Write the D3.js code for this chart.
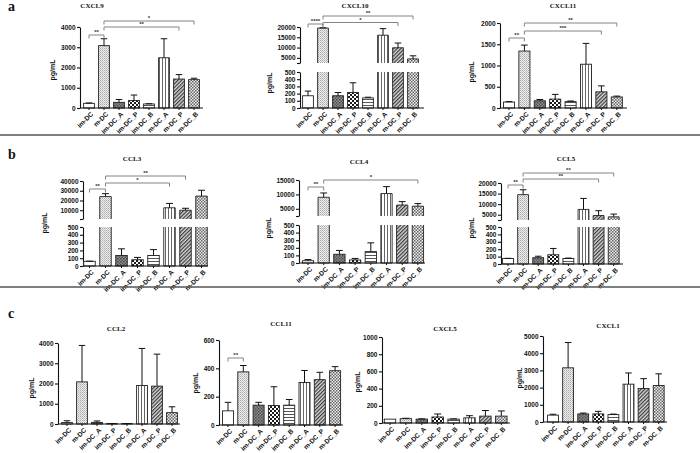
<!DOCTYPE html>
<html><head><meta charset="utf-8">
<script src="https://cdn.jsdelivr.net/npm/d3@7"></script>
<style>body{margin:0;background:#fff}svg{display:block}</style>
</head><body><svg id="c" width="700" height="453"></svg>
<script>
// ---------- DATA ----------
const categories = ["im-DC","m-DC","im-DC_A","im-DC_P","im-DC_B","m-DC_A","m-DC_P","m-DC_B"];

const cxcl9Mean  = [230,3080,280,370,200,2480,1430,1400];
const cxcl9Err   = [20,340,140,270,10,940,220,70];
const cxcl9Ticks = [0,1000,2000,3000,4000];
const cxcl9Sig   = [[0,1,"**"],[1,6,"**"],[1,7,"*"]];

const cxcl10Mean  = [170,19500,170,215,140,16000,9900,4500];
const cxcl10Err   = [65,100,45,135,10,3200,2300,1500];
const cxcl10LowTicks = [0,100,200,300,400,500];
const cxcl10UpTicks  = [2500,5000,10000,15000,20000];
const cxcl10Sig   = [[0,1,"****"],[1,6,"*"],[1,7,"**"]];

const cxcl11Mean  = [140,1340,170,210,150,1030,380,260];
const cxcl11Err   = [10,140,30,110,15,490,140,20];
const cxcl11Ticks = [0,500,1000,1500,2000];
const cxcl11Sig   = [[0,1,"**"],[1,6,"***"],[1,7,"**"]];

const ccl3Mean  = [60,24000,135,80,135,12500,10000,24500];
const ccl3Err   = [2,3000,85,30,75,4500,2000,6000];
const ccl3LowTicks = [0,100,200,300,400,500];
const ccl3UpTicks  = [1000,10000,20000,30000,40000];
const ccl3Sig   = [[0,1,"**"],[1,5,"*"],[1,6,"**"]];

const ccl4Mean  = [30,9000,115,40,150,10300,6300,5900];
const ccl4Err   = [15,1500,50,20,115,2400,1200,900];
const ccl4LowTicks = [0,100,200,300,400,500];
const ccl4UpTicks  = [2500,5000,10000,15000];
const ccl4Sig   = [[0,1,"**"],[1,7,"*"]];

const ccl5Mean  = [75,14500,85,125,75,7500,4600,4000];
const ccl5Err   = [2,2300,20,85,5,5200,2300,1300];
const ccl5LowTicks = [0,100,200,300,400,500];
const ccl5UpTicks  = [2500,5000,10000,15000,20000];
const ccl5Sig   = [[0,1,"**"],[1,6,"**"],[1,7,"**"]];

const ccl2Mean  = [70,2080,80,20,20,1900,1870,560];
const ccl2Err   = [90,1800,70,5,5,1830,1580,290];
const ccl2Ticks = [0,1000,2000,3000,4000];

const ccl11Mean  = [100,375,140,138,140,300,320,383];
const ccl11Err   = [60,45,20,132,40,85,52,29];
const ccl11Ticks = [0,200,400,600];
const ccl11Sig   = [[0,1,"**"]];

const cxcl5Mean  = [45,50,45,70,45,60,80,80];
const cxcl5Err   = [0,5,3,35,3,25,65,60];
const cxcl5Ticks = [0,200,400,600,800,1000];

const cxcl1Mean  = [400,3150,470,470,430,2200,1950,2120];
const cxcl1Err   = [50,1470,50,150,30,650,570,680];
const cxcl1Ticks = [0,1000,2000,3000,4000,5000];

// ---------- DRAWING ----------
const svg = d3.select("#c");
const defs = svg.append("defs");
function pat(id, w, h, bg, rects, rot) {
  const p = defs.append("pattern").attr("id", id).attr("patternUnits", "userSpaceOnUse")
    .attr("width", w).attr("height", h);
  if (rot) p.attr("patternTransform", "rotate(" + rot + ")");
  p.append("rect").attr("width", w).attr("height", h).attr("fill", bg);
  rects.forEach(r => p.append("rect").attr("x", r[0]).attr("y", r[1]).attr("width", r[2]).attr("height", r[3]).attr("fill", r[4]));
}
pat("p0", 4, 4, "#ffffff", []);
pat("p1", 2, 2, "#eeeeee", [[0,0,1,1,"#a8a8a8"],[1,1,1,1,"#c4c4c4"]]);
pat("p2", 3, 3, "#8c8c8c", [[0,0,1.5,1.5,"#4a4a4a"],[1.5,1.5,1.5,1.5,"#5a5a5a"]]);
pat("p3", 4, 4, "#ffffff", [[0,0,2,2,"#1a1a1a"],[2,2,2,2,"#1a1a1a"]]);
pat("p4", 3, 3, "#ffffff", [[0,0,3,1,"#555"]]);
pat("p5", 3, 3, "#ffffff", [[0,0,1,3,"#666"]]);
pat("p6", 2.6, 2.6, "#d8d8d8", [[0,0,1.2,2.6,"#3a3a3a"]], 45);
pat("p7", 3, 3, "#eeeeee", [[0,0,1.5,1.5,"#666"],[1.5,1.5,1.5,1.5,"#666"]]);

const SANS = "'Liberation Sans', Arial, sans-serif";
const SERIF = "'Liberation Serif', 'Times New Roman', serif";

function styleAxis(ax) {
  ax.selectAll("path,line").attr("stroke", "#111").attr("stroke-width", 1.1);
  ax.selectAll("text").attr("font-family", SANS).attr("font-weight", "bold").attr("font-size", 6.5).attr("fill", "#111");
}

function chart(cfg, mean, err, sig) {
  const g = svg.append("g");
  const n = categories.length;
  const start = cfg.firstC - cfg.step / 2;
  const x = d3.scaleBand().domain(categories).range([start, start + cfg.step * n])
    .paddingInner(0.28).paddingOuter(0.14);
  const bw = x.bandwidth();
  const cx = i => x(categories[i]) + bw / 2;

  let yL, yU = null;
  if (cfg.broken) {
    yL = d3.scaleLinear().domain([0, 500]).range([cfg.y0, cfg.y500]);
    yU = d3.scaleLinear().domain(cfg.uDomain).range([cfg.uBottom, cfg.uTop]);
    const a1 = g.append("g").attr("transform", `translate(${cfg.axisX},0)`)
      .call(d3.axisLeft(yL).tickValues(cfg.lowTicks).tickSize(3).tickSizeOuter(0).tickPadding(1.5).tickFormat(d3.format("d")));
    styleAxis(a1);
    const a2 = g.append("g").attr("transform", `translate(${cfg.axisX},0)`)
      .call(d3.axisLeft(yU).tickValues(cfg.upTicks).tickSize(3).tickSizeOuter(0).tickPadding(1.5)
        .tickFormat(d => d === cfg.uDomain[0] ? "" : d3.format("d")(d)));
    styleAxis(a2);
  } else {
    yL = d3.scaleLinear().domain([0, cfg.max]).range([cfg.y0, cfg.yTop]);
    const a1 = g.append("g").attr("transform", `translate(${cfg.axisX},0)`)
      .call(d3.axisLeft(yL).tickValues(cfg.ticks).tickSize(3).tickSizeOuter(0).tickPadding(1.5).tickFormat(d3.format("d")));
    styleAxis(a1);
  }

  // bars
  mean.forEach((v, i) => {
    const x0 = x(categories[i]), x1 = x0 + bw;
    const fill = "url(#p" + i + ")";
    if (cfg.broken && v > 500) {
      const yt = yL(500);
      g.append("rect").attr("x", x0).attr("y", yt).attr("width", bw).attr("height", cfg.y0 - yt).attr("fill", fill);
      g.append("path").attr("d", `M${x0},${yt}V${cfg.y0}H${x1}V${yt}`).attr("fill", "none").attr("stroke", "#222").attr("stroke-width", 0.9);
      const ut = yU(v), ub = cfg.uBottom;
      g.append("rect").attr("x", x0).attr("y", ut).attr("width", bw).attr("height", ub - ut).attr("fill", fill);
      g.append("path").attr("d", `M${x0},${ub}V${ut}H${x1}V${ub}`).attr("fill", "none").attr("stroke", "#222").attr("stroke-width", 0.9);
      const et = yU(v + err[i]);
      g.append("line").attr("x1", cx(i)).attr("x2", cx(i)).attr("y1", ut).attr("y2", et).attr("stroke", "#111").attr("stroke-width", 1);
      g.append("line").attr("x1", cx(i) - bw * 0.3).attr("x2", cx(i) + bw * 0.3).attr("y1", et).attr("y2", et).attr("stroke", "#111").attr("stroke-width", 1);
    } else {
      const yt = yL(v);
      g.append("rect").attr("x", x0).attr("y", yt).attr("width", bw).attr("height", cfg.y0 - yt)
        .attr("fill", fill).attr("stroke", "#222").attr("stroke-width", 0.9);
      if (err[i] > 0) {
        const et = yL(v + err[i]);
        g.append("line").attr("x1", cx(i)).attr("x2", cx(i)).attr("y1", yt).attr("y2", et).attr("stroke", "#111").attr("stroke-width", 1);
        g.append("line").attr("x1", cx(i) - bw * 0.3).attr("x2", cx(i) + bw * 0.3).attr("y1", et).attr("y2", et).attr("stroke", "#111").attr("stroke-width", 1);
      }
    }
  });

  // x axis
  const xa = g.append("g").attr("transform", `translate(0,${cfg.y0})`)
    .call(d3.axisBottom(x).tickSize(2).tickFormat(""));
  xa.select(".domain").remove();
  xa.selectAll("line").attr("stroke", "#111").attr("stroke-width", 1);
  g.append("line").attr("x1", cfg.axisX).attr("x2", cfg.axisEnd).attr("y1", cfg.y0).attr("y2", cfg.y0)
    .attr("stroke", "#111").attr("stroke-width", 1.2);
  g.selectAll("text.xl").data(categories).join("text").attr("class", "xl")
    .attr("transform", (d, i) => `translate(${cx(i) + 3},${cfg.y0 + 5}) rotate(-45)`)
    .attr("text-anchor", "end").attr("dy", "0.35em")
    .attr("font-family", SANS).attr("font-weight", "bold").attr("font-size", 6.6).attr("fill", "#111")
    .text(d => d);

  // y label
  g.append("text").attr("transform", `translate(${cfg.labX},${cfg.labY}) rotate(-90)`)
    .attr("text-anchor", "middle").attr("dy", "0.35em")
    .attr("font-family", SANS).attr("font-weight", "bold").attr("font-size", 7).attr("fill", "#111").text("pg/mL");

  // title
  g.append("text").attr("x", cfg.titleX).attr("y", cfg.titleY).attr("text-anchor", "middle")
    .attr("font-family", SERIF).attr("font-weight", "bold").attr("font-size", 7).attr("fill", "#111").text(cfg.title);

  // significance brackets
  (sig || []).forEach((s, k) => {
    const yy = cfg.sigY[k];
    const xa1 = cx(s[0]), xb1 = cx(s[1]);
    g.append("path").attr("d", `M${xa1},${yy + 3.5}V${yy}H${xb1}V${yy + 3.5}`)
      .attr("fill", "none").attr("stroke", "#777").attr("stroke-width", 0.9);
    g.append("text").attr("x", (xa1 + xb1) / 2).attr("y", yy - 0.6).attr("text-anchor", "middle")
      .attr("font-family", SANS).attr("font-weight", "bold").attr("font-size", 6).attr("fill", "#333").text(s[2]);
  });
}

// panel a
chart({title:"CXCL9", axisX:80, axisEnd:203, firstC:89, step:15, y0:108, max:4000, yTop:27, ticks:cxcl9Ticks,
  titleX:92, titleY:8, labX:53, labY:70, sigY:[35,27,21]}, cxcl9Mean, cxcl9Err, cxcl9Sig);
chart({title:"CXCL10", axisX:300, axisEnd:424, firstC:308, step:15, y0:108, broken:true, y500:72,
  uDomain:[2500,20000], uBottom:63, uTop:27, lowTicks:cxcl10LowTicks, upTicks:cxcl10UpTicks,
  titleX:355, titleY:8, labX:270, labY:83, sigY:[24,22.5,16]}, cxcl10Mean, cxcl10Err, cxcl10Sig);
chart({title:"CXCL11", axisX:500, axisEnd:627, firstC:509, step:15.4, y0:108, max:2000, yTop:23, ticks:cxcl11Ticks,
  titleX:563, titleY:8, labX:472, labY:72, sigY:[38,31,23]}, cxcl11Mean, cxcl11Err, cxcl11Sig);

// panel b
chart({title:"CCL3", axisX:83, axisEnd:208, firstC:89.5, step:16, y0:266, broken:true, y500:227,
  uDomain:[1000,40000], uBottom:219, uTop:181, lowTicks:ccl3LowTicks, upTicks:ccl3UpTicks,
  titleX:132, titleY:161, labX:45, labY:223, sigY:[189,183,176]}, ccl3Mean, ccl3Err, ccl3Sig);
chart({title:"CCL4", axisX:299, axisEnd:425, firstC:308, step:15.7, y0:263, broken:true, y500:225,
  uDomain:[2500,15000], uBottom:216, uTop:180, lowTicks:ccl4LowTicks, upTicks:ccl4UpTicks,
  titleX:359, titleY:164, labX:269, labY:228, sigY:[187,180]}, ccl4Mean, ccl4Err, ccl4Sig);
chart({title:"CCL5", axisX:501, axisEnd:623, firstC:508, step:15.1, y0:264, broken:true, y500:227,
  uDomain:[2500,20000], uBottom:220, uTop:183, lowTicks:ccl5LowTicks, upTicks:ccl5UpTicks,
  titleX:566, titleY:161, labX:472, labY:228, sigY:[185,179,173]}, ccl5Mean, ccl5Err, ccl5Sig);

// panel c
chart({title:"CCL2", axisX:58, axisEnd:180, firstC:67, step:15, y0:424, max:4000, yTop:343, ticks:ccl2Ticks,
  titleX:116, titleY:331, labX:32, labY:388}, ccl2Mean, ccl2Err, null);
chart({title:"CCL11", axisX:219, axisEnd:343, firstC:228, step:15.3, y0:425, max:600, yTop:340, ticks:ccl11Ticks,
  titleX:281, titleY:326, labX:196, labY:383, sigY:[358]}, ccl11Mean, ccl11Err, ccl11Sig);
chart({title:"CXCL5", axisX:382, axisEnd:510, firstC:390, step:15.9, y0:423, max:1000, yTop:337, ticks:cxcl5Ticks,
  titleX:445, titleY:331, labX:358, labY:382}, cxcl5Mean, cxcl5Err, null);
chart({title:"CXCL1", axisX:543, axisEnd:667, firstC:553, step:15.1, y0:422, max:5000, yTop:336, ticks:cxcl1Ticks,
  titleX:608, titleY:328, labX:520, labY:378}, cxcl1Mean, cxcl1Err, null);

// separators and panel letters
[135, 287].forEach(yy => svg.append("line").attr("x1", 0).attr("x2", 700).attr("y1", yy).attr("y2", yy)
  .attr("stroke", "#555").attr("stroke-width", 1.5));
[["a",8,11],["b",8,159],["c",8,318]].forEach(l => svg.append("text").attr("x", l[1]).attr("y", l[2])
  .attr("font-family", SERIF).attr("font-weight", "bold").attr("font-size", 14).attr("fill", "#111").text(l[0]));
</script>
</body></html>
